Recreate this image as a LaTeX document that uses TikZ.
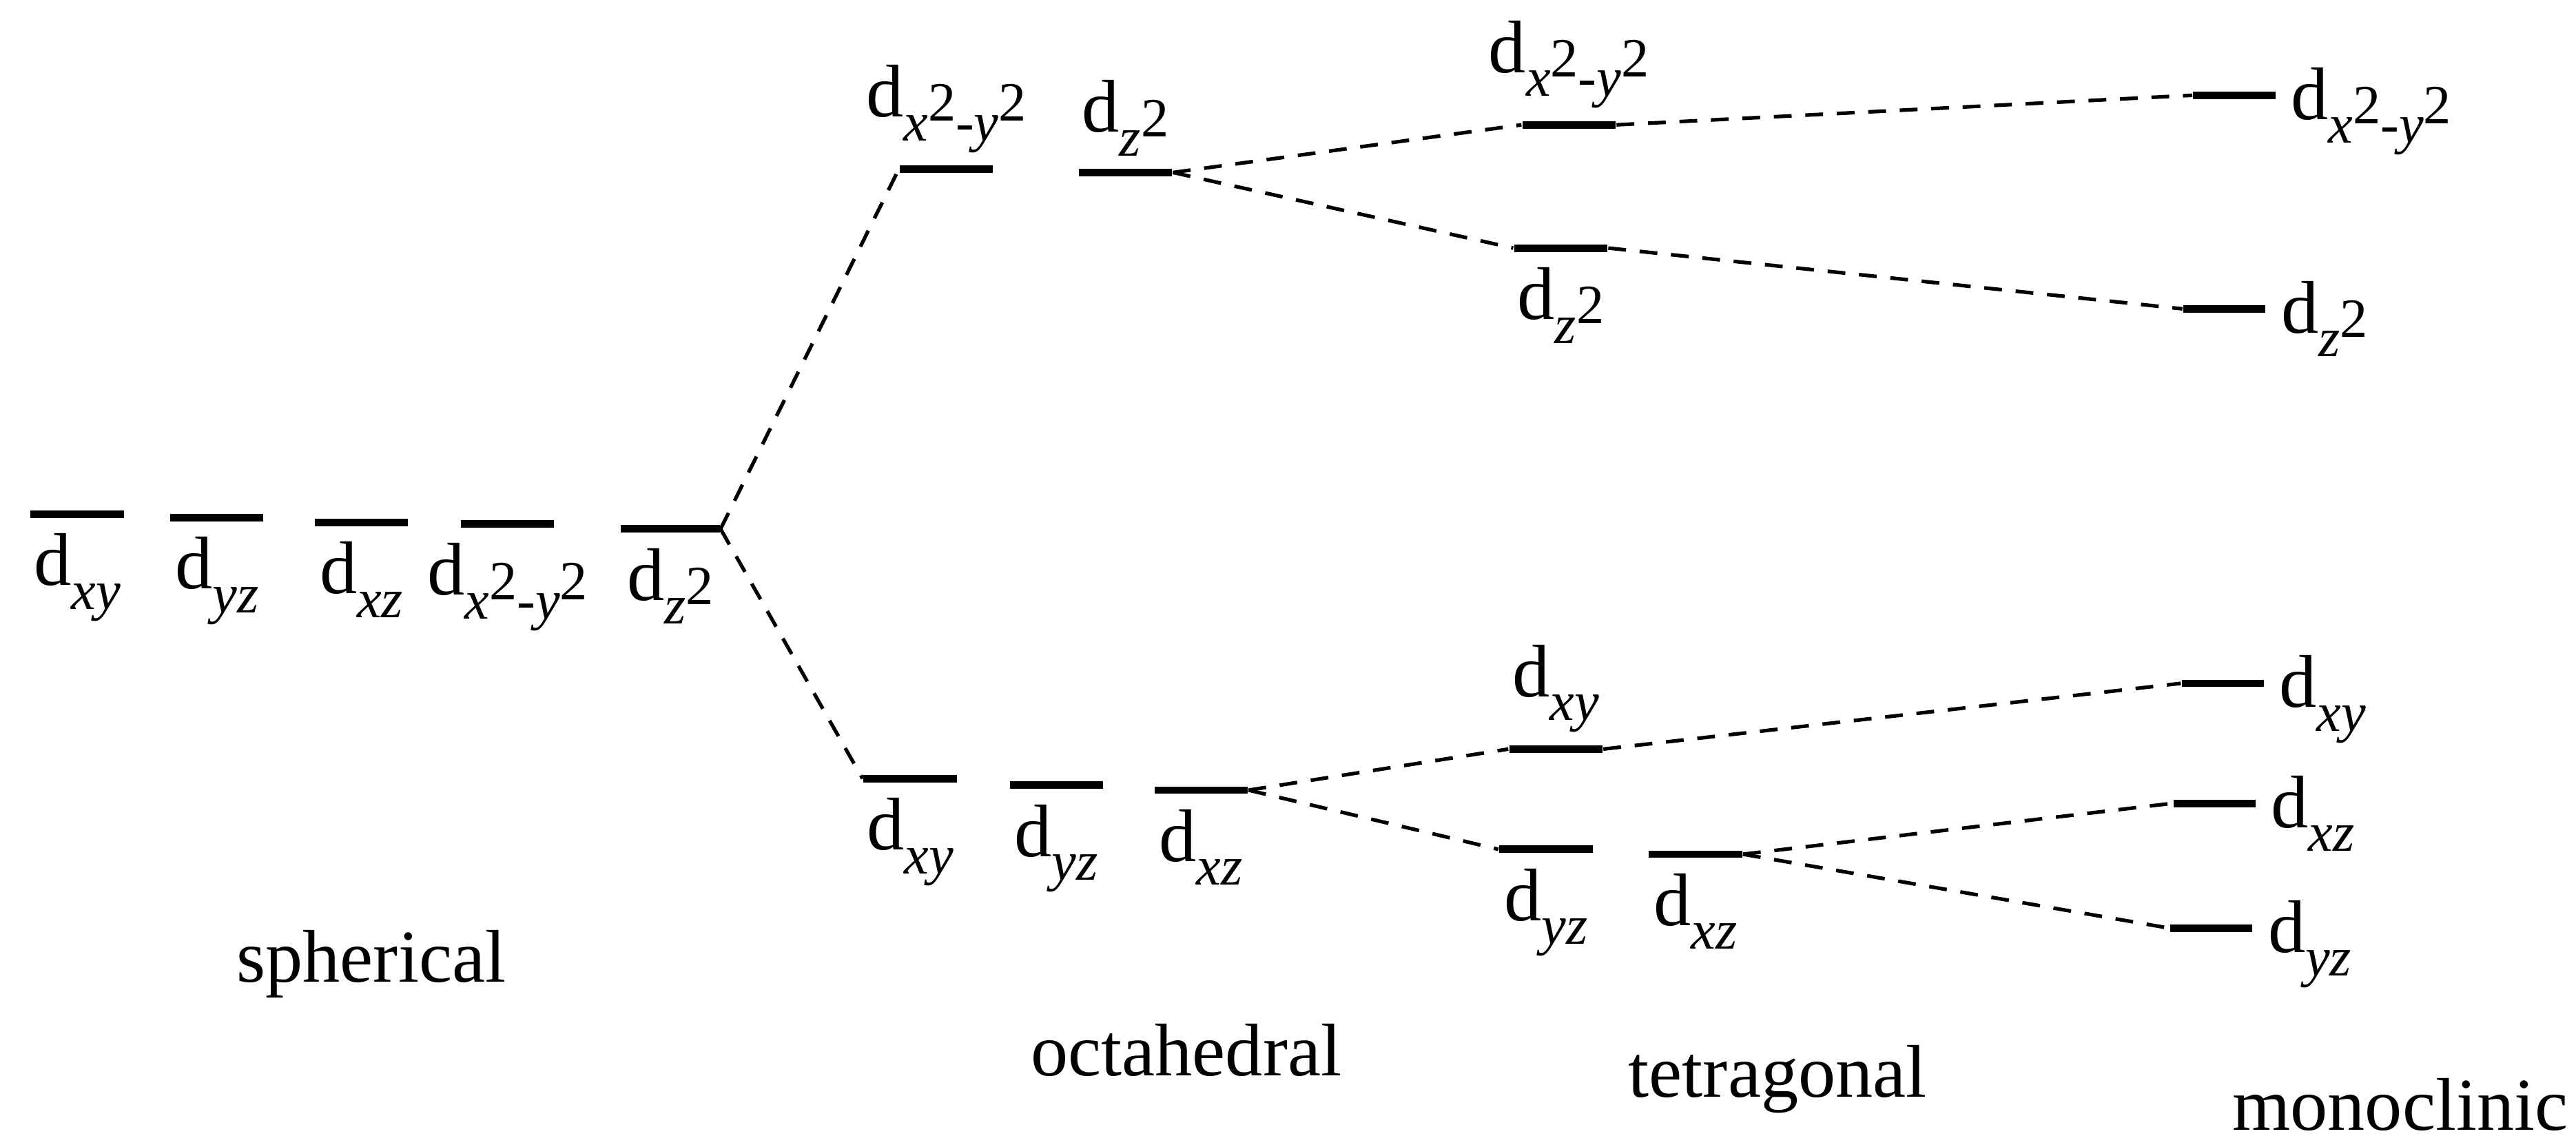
\documentclass[tikz,border=0pt]{standalone}
\usepackage{fontspec}
\setmainfont{Liberation Serif}
\usepackage{tikz}
\usetikzlibrary{positioning}

% orbital labels
\newcommand{\subsz}{\fontsize{11.5}{12}\selectfont}
\newcommand{\lo}[1]{\raisebox{-0.32em}{\subsz #1}}
\newcommand{\tw}{\raisebox{-0.06em}{\subsz 2}}
\newcommand{\dxy}{d\lo{\itshape xy}}
\newcommand{\dyz}{d\lo{\itshape yz}}
\newcommand{\dxz}{d\lo{\itshape xz}}
\newcommand{\dzz}{d\lo{\itshape z}\tw}
\newcommand{\dxx}{d\lo{\itshape x}\tw\lo{-}\lo{\itshape y}\tw}

\tikzset{
  lvl/.style={fill=black, inner sep=0pt, minimum width=0.68cm, minimum height=0.055cm},
  lbl/.style={inner sep=0pt, font=\fontsize{15.5}{18}\selectfont},
  mlbl/.style={lbl, anchor=base west, yshift=-5pt},
  split/.style={dashed, line width=0.75pt, dash pattern=on 0.13cm off 0.1cm},
  geom/.style={anchor=base, font=\fontsize{15.5}{18}\selectfont}
}

\begin{document}
\begin{tikzpicture}[x=0.012cm, y=-0.012cm]
  \useasboundingbox (0,0) rectangle (1568,698);

  % spherical
  \node[lvl] (s1) at (47,313) {};
  \node[lvl] (s2) at (132,315) {};
  \node[lvl] (s3) at (220,318) {};
  \node[lvl] (s4) at (309,319) {};
  \node[lvl, minimum width=0.72cm] (s5) at (408,322) {};
  \node[lbl, below=0.1cm of s1] (s1l) {\dxy};
  \node[lbl, below=0.1cm of s2] (s2l) {\dyz};
  \node[lbl, below=0.1cm of s3] (s3l) {\dxz};
  \node[lbl, below=0.1cm of s4] (s4l) {\dxx};
  \node[lbl, below=0.1cm of s5] (s5l) {\dzz};

  % octahedral
  \node[lvl] (e1) at (576,103) {};
  \node[lvl] (e2) at (685,105) {};
  \node[lvl] (t1) at (554,474) {};
  \node[lvl] (t2) at (643,478) {};
  \node[lvl] (t3) at (731,481) {};
  \node[lbl, above=0.08cm of e1] (e1l) {\dxx};
  \node[lbl, above=0.08cm of e2] (e2l) {\dzz};
  \node[lbl, below=0.1cm of t1] (t1l) {\dxy};
  \node[lbl, below=0.1cm of t2] (t2l) {\dyz};
  \node[lbl, below=0.1cm of t3] (t3l) {\dxz};

  % tetragonal
  \node[lvl] (a1) at (955,76) {};
  \node[lvl] (a2) at (950,151) {};
  \node[lvl] (b1) at (947,456) {};
  \node[lvl] (b2) at (941,517) {};
  \node[lvl] (b3) at (1032,520) {};
  \node[lbl, above=0.08cm of a1] (a1l) {\dxx};
  \node[lbl, below=0.1cm of a2] (a2l) {\dzz};
  \node[lbl, above=0.08cm of b1] (b1l) {\dxy};
  \node[lbl, below=0.1cm of b2] (b2l) {\dyz};
  \node[lbl, below=0.1cm of b3] (b3l) {\dxz};

  % monoclinic
  \node[lvl, minimum width=0.6cm] (m1) at (1360,58) {};
  \node[lvl, minimum width=0.6cm] (m2) at (1354,188) {};
  \node[lvl, minimum width=0.6cm] (m3) at (1353,416) {};
  \node[lvl, minimum width=0.6cm] (m4) at (1348,489) {};
  \node[lvl, minimum width=0.6cm] (m5) at (1346,565) {};
  \node[right=0.1cm of m1, mlbl] (m1l) {\dxx};
  \node[right=0.1cm of m2, mlbl] (m2l) {\dzz};
  \node[right=0.1cm of m3, mlbl] (m3l) {\dxy};
  \node[right=0.1cm of m4, mlbl] (m4l) {\dxz};
  \node[right=0.1cm of m5, mlbl] (m5l) {\dyz};

  % splittings
  \draw[split] (s5.east) -- (e1.west);
  \draw[split] (s5.east) -- (t1.west);
  \draw[split] (e2.east) -- (a1.west);
  \draw[split] (e2.east) -- (a2.west);
  \draw[split] (t3.east) -- (b1.west);
  \draw[split] (t3.east) -- (b2.west);
  \draw[split] (a1.east) -- (m1.west);
  \draw[split] (a2.east) -- (m2.west);
  \draw[split] (b1.east) -- (m3.west);
  \draw[split] (b3.east) -- (m4.west);
  \draw[split] (b3.east) -- (m5.west);

  % field symmetry
  \node[geom] (sph) at (226,598) {spherical};
  \node[geom] (oct) at (722,655) {octahedral};
  \node[geom] (tet) at (1082,668) {tetragonal};
  \node[geom] (mon) at (1461,688) {monoclinic};
\end{tikzpicture}
\end{document}
